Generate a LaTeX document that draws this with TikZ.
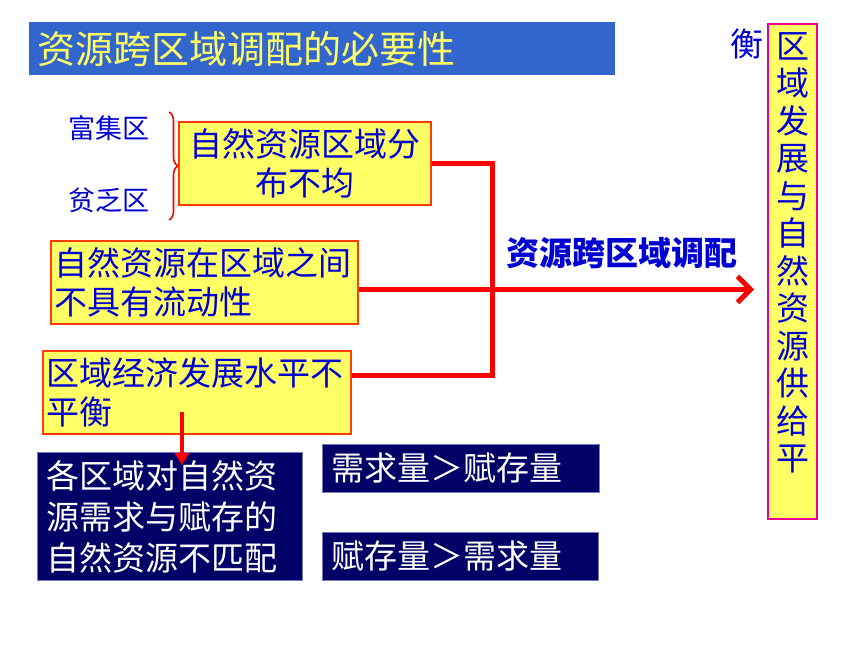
\documentclass[tikz,border=0pt]{standalone}
\usepackage{fontspec}
\setmainfont{Noto Sans CJK SC}
\usetikzlibrary{arrows.meta}
\usetikzlibrary{positioning}
\usetikzlibrary{decorations.pathreplacing}

\definecolor{titlebg}{RGB}{51,102,204}
\definecolor{titlefg}{RGB}{255,255,102}
\definecolor{inkblue}{RGB}{0,0,210}
\definecolor{noteyellow}{RGB}{255,255,102}
\definecolor{edgered}{RGB}{255,60,0}
\definecolor{navybg}{RGB}{0,0,102}
\definecolor{navyedge}{RGB}{120,120,190}

\newcommand{\cjkbig}{\fontsize{33pt}{39pt}\selectfont}

\tikzset{
  cause/.style={draw=edgered, line width=1.8pt, fill=noteyellow, text=inkblue, font=\cjkbig,
    anchor=north west, minimum height=83pt, inner xsep=3pt, inner ysep=2pt},
  fact/.style={draw=navyedge, line width=0.8pt, fill=navybg, text=white, font=\cjkbig,
    anchor=north west, inner xsep=9pt, align=left},
  side/.style={text=inkblue, font=\fontsize{27pt}{30pt}\selectfont, inner sep=0pt},
  feed/.style={draw=red, line width=5pt},
}

\begin{document}
\begin{tikzpicture}[x=1pt, y=-1pt]
  \useasboundingbox (0,0) rectangle (860,645);
  \node[fill=titlebg, text=titlefg, font=\fontsize{38pt}{40pt}\selectfont, anchor=north west,
    minimum width=586pt, minimum height=53pt, inner xsep=8pt, text width=570pt, align=left]
    (title) at (29,22) {资源跨区域调配的必要性};
  \node[side] (rich) at (109,128) {富集区};
  \node[side] (poor) at (109,200) {贫乏区};
  \draw[red, line width=1.6pt, decorate, decoration={brace, amplitude=9pt}] (169,112) -- (169,220);
  \node[cause, minimum width=252pt, text width=244pt, align=center] (uneven) at (178,121)
    {自然资源区域分\\布不均};
  \node[cause, minimum width=307pt, text width=299pt, align=left] (fixed) at (50,240)
    {自然资源在区域之间\\不具有流动性};
  \node[cause, minimum width=308pt, text width=300pt, align=left] (unequal) at (42,350)
    {区域经济发展水平不\\平衡};
  \node[fact, minimum width=265pt, minimum height=128pt, text width=247pt,
    font=\fontsize{33pt}{41pt}\selectfont] (mismatch) at (37,452)
    {各区域对自然资\\源需求与赋存的\\自然资源不匹配};
  \node[fact, minimum width=277pt, minimum height=48pt, text width=259pt] (demand) at (322,444)
    {需求量＞赋存量};
  \node[fact, minimum width=276pt, minimum height=48pt, text width=258pt] (supply) at (322,532)
    {赋存量＞需求量};
  \node[draw=magenta, line width=1.8pt, fill=noteyellow, anchor=north,
    minimum width=49pt, minimum height=495pt] (goal) at (792.5,23) {};
  \node[text=inkblue, font=\fontsize{33pt}{37.5pt}\selectfont, align=center, anchor=north,
    inner sep=0pt] (goaltext) at ([yshift=-9pt]goal.north)
    {区\\域\\发\\展\\与\\自\\然\\资\\源\\供\\给\\平};
  \node[text=inkblue, font=\cjkbig, anchor=north east, inner sep=0pt] (goaltail)
    at ([xshift=-3pt,yshift=-6pt]goal.north west) {衡};
  \node[text=inkblue, font=\fontsize{33pt}{36pt}\selectfont\bfseries] (move) at (622,253)
    {资源跨区域调配};
  \coordinate (hub) at (492,289);
  \draw[feed] (uneven.east) -| (hub) |- ([yshift=17pt]unequal.east);
  \draw[feed, -{Straight Barb[length=13pt, width=26pt]}, shorten >=13pt]
    ([yshift=-7pt]fixed.east) -- ([yshift=-7pt]fixed.east -| goal.west);
  \coordinate (drop) at ([xshift=-15pt,yshift=23pt]unequal.south);
  \path (drop |- mismatch.north) coordinate (dropend);
  \draw[draw=red, line width=4pt, -{Triangle[length=12pt, width=14pt]}] (drop) -- ([yshift=-13pt]dropend);
\end{tikzpicture}
\end{document}
